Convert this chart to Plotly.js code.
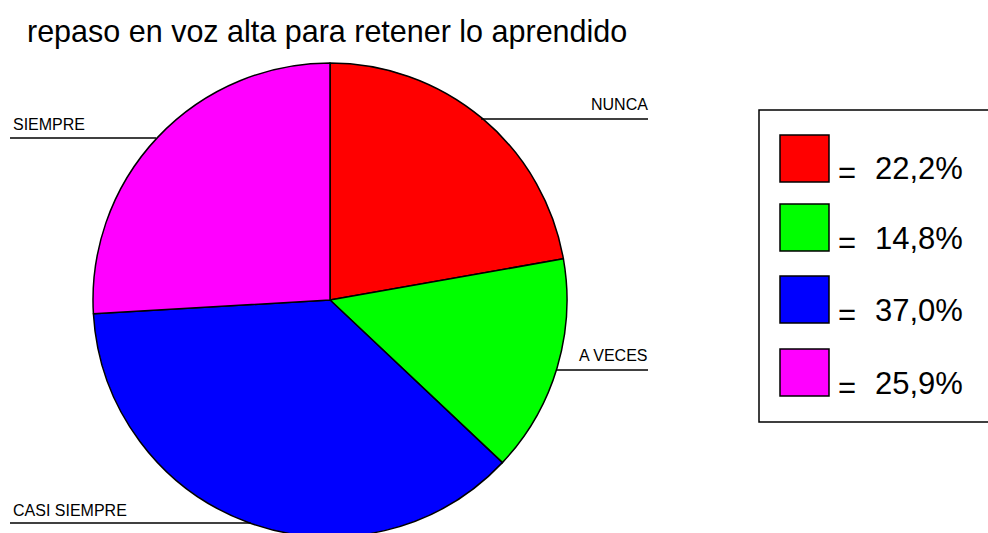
<!DOCTYPE html>
<html>
<head>
<meta charset="utf-8">
<script src="https://cdn.plot.ly/plotly-3.0.1.min.js"></script>
<style>
html,body{margin:0;padding:0;overflow:hidden;background:#fff;}
#chart{width:988px;height:545px;}
</style>
</head>
<body>
<div id="chart"></div>
<script>
// ---- data ----
const categories = ["NUNCA", "A VECES", "CASI SIEMPRE", "SIEMPRE"];
const percentages = [22.2, 14.8, 37.0, 25.9];
const sliceColors = ["#FF0000", "#00FF00", "#0000FF", "#FF00FF"];
const chartTitle = "repaso en voz alta para retener lo aprendido";

// ---- layout helpers (pixel -> paper) ----
const W = 988, H = 545;
const px = x => x / W;
const py = y => 1 - y / H;
const FONT = "Liberation Sans, Arial, sans-serif";

const trace = {
  type: "pie",
  labels: categories,
  values: percentages,
  sort: false,
  direction: "clockwise",
  rotation: 0,
  textinfo: "none",
  hoverinfo: "label+percent",
  marker: { colors: sliceColors, line: { color: "#000000", width: 1.5 } },
  domain: { x: [px(93), px(567)], y: [py(537), py(63)] }
};

// label positions (pixel) for each category: [textX, textY, anchor, lineX0, lineX1, lineY]
const labelPos = [
  [650, 105, "right", 481, 648, 119],
  [649, 355, "right", 556, 648, 370],
  [11, 510, "left", 10, 251, 523],
  [11, 125, "left", 10, 156, 138]
];

const annotations = [];
const shapes = [];
categories.forEach((c, i) => {
  const p = labelPos[i];
  annotations.push({
    xref: "paper", yref: "paper", x: px(p[0]), y: py(p[1]),
    xanchor: p[2], yanchor: "middle", text: c, showarrow: false,
    font: { family: FONT, size: 16, color: "#000" }
  });
  shapes.push({
    type: "line", xref: "paper", yref: "paper",
    x0: px(p[3]), x1: px(p[4]), y0: py(p[5]), y1: py(p[5]),
    line: { color: "#000", width: 1.5 }
  });
});

// custom legend box
shapes.push({
  type: "rect", xref: "paper", yref: "paper",
  x0: px(759), x1: px(995), y0: py(422), y1: py(110),
  line: { color: "#000", width: 1.5 }, fillcolor: "rgba(0,0,0,0)"
});
const sqTop = [135, 204, 276, 349];
percentages.forEach((v, i) => {
  const t = sqTop[i];
  shapes.push({
    type: "rect", xref: "paper", yref: "paper",
    x0: px(780), x1: px(829), y0: py(t + 47), y1: py(t),
    line: { color: "#000", width: 1.5 }, fillcolor: sliceColors[i]
  });
  annotations.push({
    xref: "paper", yref: "paper", x: px(847), y: py(t + 38),
    xanchor: "center", yanchor: "middle", text: "=", showarrow: false,
    font: { family: FONT, size: 31, color: "#000" }
  });
  annotations.push({
    xref: "paper", yref: "paper", x: px(873), y: py(t + 34),
    xanchor: "left", yanchor: "middle",
    text: v.toFixed(1).replace(".", ",") + "%", showarrow: false,
    font: { family: FONT, size: 31, color: "#000" }
  });
});

const layout = {
  width: W, height: H,
  margin: { l: 0, r: 0, t: 0, b: 0 },
  paper_bgcolor: "#fff",
  showlegend: false,
  title: {
    text: chartTitle,
    x: px(27), xanchor: "left", xref: "paper",
    y: 1 - 31 / H, yanchor: "middle", yref: "container",
    font: { family: FONT, size: 30.5, color: "#000" }
  },
  annotations: annotations,
  shapes: shapes
};

Plotly.newPlot("chart", [trace], layout, { displayModeBar: false, staticPlot: true });
</script>
</body>
</html>
